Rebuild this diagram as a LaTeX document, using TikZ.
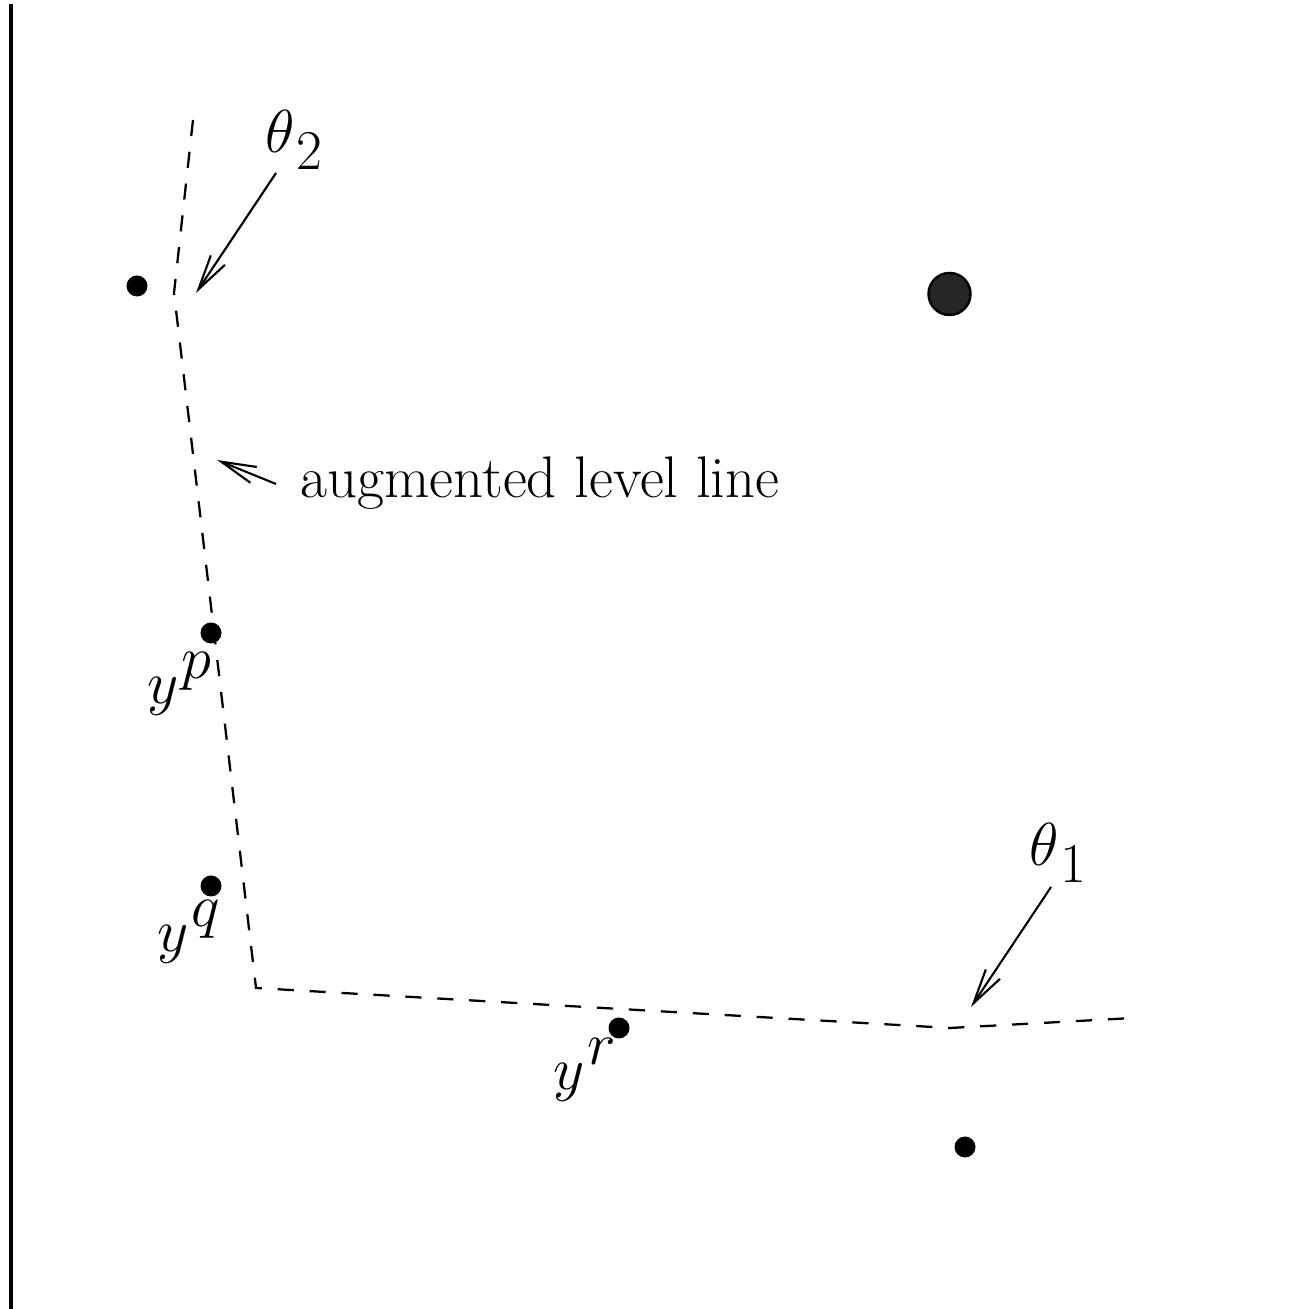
\documentclass[tikz,border=0pt]{standalone}
\usetikzlibrary{arrows.meta}
\newcommand{\suplbl}[2]{$#1$\kern0.8pt\raisebox{7.3pt}{$#2$}}
\newcommand{\sublbl}[2]{$#1$\kern0.3pt\raisebox{-4.6pt}{#2}}

\begin{document}
\begin{tikzpicture}[x=1cm, y=1cm,
    bound/.style={line width=1.1pt},
    level/.style={line width=0.65pt, dash pattern=on 4.6pt off 4.5pt},
    pointer/.style={line width=0.6pt, -{Straight Barb[length=3.5mm, width=1.7mm]}},
    pt/.style={circle, fill=black, inner sep=0pt, minimum size=2.1mm},
    bigpt/.style={circle, draw=black, fill=black!85, line width=0.7pt, inner sep=0pt, minimum size=4.2mm},
    lbl/.style={inner sep=0pt, anchor=base west, font=\fontsize{16}{19}\selectfont},
  ]
  \useasboundingbox (0,0) rectangle (12.98,13.09);

  % corners of the level line
  \coordinate (l0) at (1.93, 11.89);
  \coordinate (l1) at (1.74, 10.16);
  \coordinate (l2) at (2.56, 3.21);
  \coordinate (l3) at (9.50, 2.81);
  \coordinate (l4) at (11.33, 2.91);

  % left boundary
  \draw[bound] (0.11, 13.05) -- (0.11, 0);

  % augmented level line
  \draw[level] (l0) -- (l1) -- (l2) -- (l3) -- (l4);

  % points
  \node[pt] (a) at (1.37, 10.23) {};
  \node[pt] (yp) at (2.11, 6.76) {};
  \node[pt] (yq) at (2.11, 4.23) {};
  \node[pt] (yr) at (6.19, 2.81) {};
  \node[pt] (b) at (9.65, 1.62) {};
  \node[bigpt] (c) at (9.495, 10.15) {};

  % labels
  \node[lbl] (typ) at (1.47, 6.05) {\suplbl{y}{p}};
  \node[lbl] (tyq) at (1.57, 3.57) {\suplbl{y}{q}};
  \node[lbl] (tyr) at (5.53, 2.19) {\suplbl{y}{r}};
  \node[lbl] (tt2) at (2.65, 11.56) {\sublbl{\theta}{2}};
  \node[lbl] (tt1) at (10.29, 4.43) {\sublbl{\theta}{1}};
  \node[lbl, font=\fontsize{16.7}{20}\selectfont] (tlev) at (3.00, 8.11) {augmented level line};

  % pointers
  \coordinate (p2s) at (2.76, 11.36);
  \coordinate (p2e) at (1.96, 10.16);
  \coordinate (p1s) at (10.51, 4.22);
  \coordinate (p1e) at (9.71, 3.02);
  \coordinate (pls) at (2.76, 8.25);
  \coordinate (ple) at (2.17, 8.49);
  \draw[pointer] (p2s) -- (p2e);
  \draw[pointer] (p1s) -- (p1e);
  \draw[pointer] (pls) -- (ple);
\end{tikzpicture}
\end{document}
